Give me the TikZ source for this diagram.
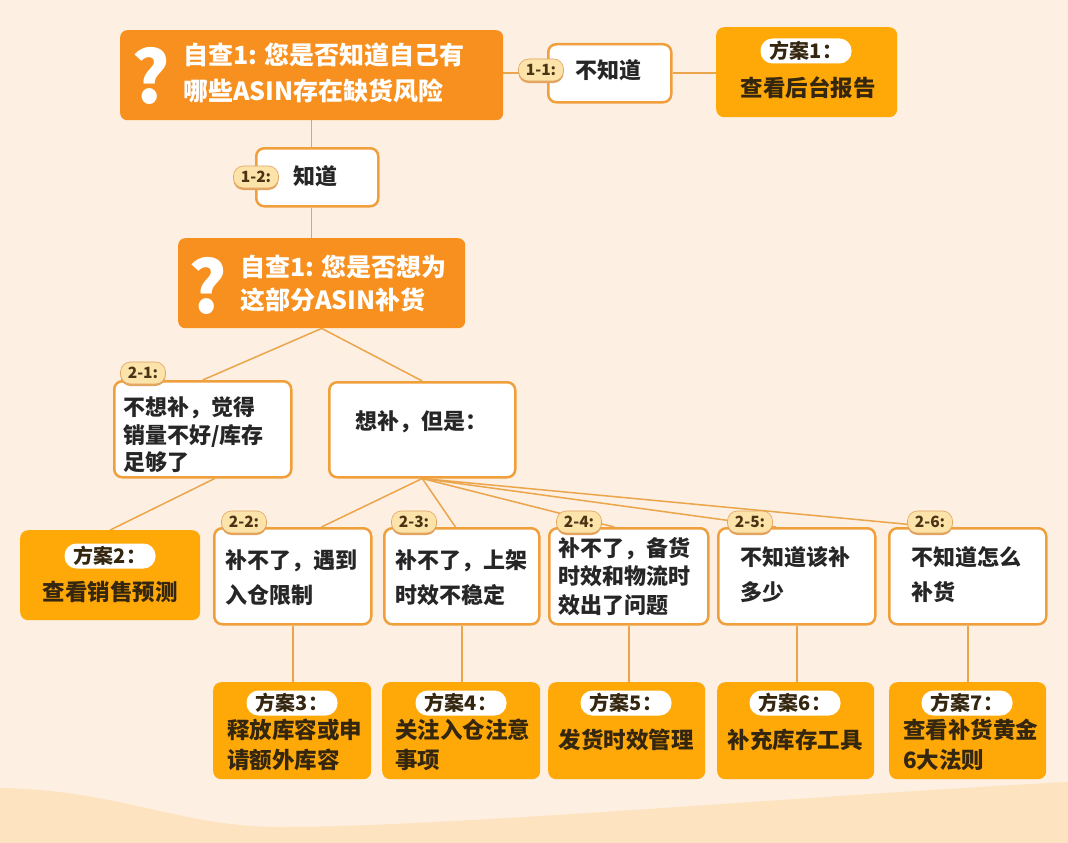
\documentclass[tikz,border=0pt]{standalone}
\usepackage{fontspec}
\setmainfont{Noto Sans CJK SC}
\usetikzlibrary{calc,shadows}
\definecolor{bgc}{HTML}{FDEFE1}
\definecolor{wavec}{HTML}{FDE3BF}
\definecolor{qor}{HTML}{F7901E}
\definecolor{planc}{HTML}{FFA908}
\definecolor{bordc}{HTML}{EFA03C}
\definecolor{linec}{HTML}{EBA54A}
\definecolor{badgef}{HTML}{FCE3A9}
\definecolor{badgee}{HTML}{E2A35E}
\definecolor{darkt}{HTML}{262626}
\definecolor{plant}{HTML}{35260F}
\definecolor{badget}{HTML}{4A3415}
\pgfdeclarelayer{bglayer}
\pgfdeclarelayer{linelayer}
\pgfsetlayers{bglayer,linelayer,main}
\begin{document}
\begin{tikzpicture}[x=1pt,y=-1pt,
  qbox/.style={fill=qor, rounded corners=7pt, anchor=north west, inner sep=0},
  wbox/.style={fill=white, draw=bordc, line width=2.5pt, rounded corners=8pt, anchor=north west, inner sep=0},
  pbox/.style={fill=planc, rounded corners=8pt, anchor=north west, inner sep=0},
  badge/.style={fill=badgef, draw=badgee, line width=0.6pt, rounded corners=10pt, minimum width=45pt, minimum height=22pt, inner sep=0, font=\fontsize{15.5}{16}\selectfont\bfseries, text=badget, drop shadow={shadow xshift=0pt, shadow yshift=-2pt, fill=badgee, opacity=1}},
  pill/.style={fill=white, rounded corners=12pt, minimum width=91pt, minimum height=25pt, inner sep=0, font=\fontsize{20}{21}\selectfont\bfseries, text=plant},
  conn/.style={draw=linec, line width=1.5pt},
  qmark/.style={font=\fontsize{72}{72}\selectfont\bfseries, text=white, inner sep=0},
  qtext/.style={text=white, font=\fontsize{25}{36}\selectfont\bfseries, align=left, inner sep=0, anchor=west},
  wtext/.style={text=darkt, font=\fontsize{22}{35}\selectfont\bfseries, align=left, inner sep=0, anchor=west},
  ptext/.style={text=plant, font=\fontsize{22.5}{30}\selectfont\bfseries, align=left, inner sep=0}
]
\useasboundingbox (0,0) rectangle (1068,843);
\begin{pgfonlayer}{bglayer}
  \fill[bgc] (0,0) rectangle (1068,843);
  \fill[wavec] (0,788) .. controls (120,790) and (180,827) .. (280,827)
     .. controls (450,827) and (800,796) .. (1068,782) -- (1068,843) -- (0,843) -- cycle;
\end{pgfonlayer}

% question 1
\node[qbox, minimum width=383pt, minimum height=90pt] (q1) at (120,30) {};
\node[qmark] (q1m) at (151,76) {?};
\node[qtext] (q1t) at (183,73) {自查1: 您是否知道自己有\\哪些ASIN存在缺货风险};

% 1-1
\node[wbox, minimum width=123pt, minimum height=58pt] (n11) at (547,43) {};
\node[wtext, anchor=center] (n11t) at (608,70) {不知道};
\node[badge] (b11) at (541,70) {1-1:};

% plan 1
\node[pbox, minimum width=181pt, minimum height=90pt] (p1) at (716,27) {};
\node[pill] (p1l) at (806,51) {方案1：};
\node[ptext] (p1t) at (808,88) {查看后台报告};

% 1-2
\node[wbox, minimum width=122pt, minimum height=58pt] (n12) at (255,147) {};
\node[wtext, anchor=center] (n12t) at (315,176) {知道};
\node[badge] (b12) at (256,177) {1-2:};

% question 2
\node[qbox, minimum width=287pt, minimum height=90pt] (q2) at (178,238) {};
\node[qmark] (q2m) at (208,286) {?};
\node[qtext, font=\fontsize{25}{33}\selectfont\bfseries] (q2t) at (240,283.5) {自查1: 您是否想为\\这部分ASIN补货};

% 2-1
\node[wbox, minimum width=177pt, minimum height=96pt] (n21) at (113,380) {};
\node[wtext, font=\fontsize{22}{27.5}\selectfont\bfseries] (n21t) at (123,435) {不想补，觉得\\销量不好/库存\\足够了};
\node[badge] (b21) at (143,373) {2-1:};

% want
\node[wbox, minimum width=186pt, minimum height=95pt] (n22) at (328,381) {};
\node[wtext, anchor=center] (n22t) at (421,422) {想补，但是：};

% plan 2
\node[pbox, minimum width=180pt, minimum height=90pt] (p2) at (20,530) {};
\node[pill] (p2l) at (110,556) {方案2：};
\node[ptext] (p2t) at (110,592) {查看销售预测};

% second level children
\node[wbox, minimum width=157pt, minimum height=96pt] (c22) at (213,527) {};
\node[wtext] (c22t) at (225,577.5) {补不了，遇到\\入仓限制};
\node[badge] (b22) at (244,522) {2-2:};

\node[wbox, minimum width=155pt, minimum height=96pt] (c23) at (383,527) {};
\node[wtext] (c23t) at (395,577.5) {补不了，上架\\时效不稳定};
\node[badge] (b23) at (414,522) {2-3:};

\node[wbox, minimum width=159pt, minimum height=96pt] (c24) at (548,527) {};
\node[wtext, font=\fontsize{22}{28.5}\selectfont\bfseries] (c24t) at (558,576.5) {补不了，备货\\时效和物流时\\效出了问题};
\node[badge] (b24) at (579,522) {2-4:};

\node[wbox, minimum width=157pt, minimum height=96pt] (c25) at (717,527) {};
\node[wtext] (c25t) at (740,574.5) {不知道该补\\多少};
\node[badge] (b25) at (750,522) {2-5:};

\node[wbox, minimum width=157pt, minimum height=96pt] (c26) at (888,527) {};
\node[wtext] (c26t) at (911,574.5) {不知道怎么\\补货};
\node[badge] (b26) at (930,522) {2-6:};

% bottom plans
\node[pbox, minimum width=158pt, minimum height=97pt] (pl3) at (213,682) {};
\node[pill] (pl3l) at (292,703) {方案3：};
\node[ptext, anchor=west] (pl3t) at (227,745) {释放库容或申\\请额外库容};

\node[pbox, minimum width=158pt, minimum height=97pt] (pl4) at (382,682) {};
\node[pill] (pl4l) at (461,703) {方案4：};
\node[ptext, anchor=west] (pl4t) at (395,745) {关注入仓注意\\事项};

\node[pbox, minimum width=157pt, minimum height=97pt] (pl5) at (548,682) {};
\node[pill] (pl5l) at (626,703) {方案5：};
\node[ptext] (pl5t) at (626,740) {发货时效管理};

\node[pbox, minimum width=157pt, minimum height=97pt] (pl6) at (717,682) {};
\node[pill] (pl6l) at (795,703) {方案6：};
\node[ptext] (pl6t) at (795,740) {补充库存工具};

\node[pbox, minimum width=157pt, minimum height=97pt] (pl7) at (889,682) {};
\node[pill] (pl7l) at (967,703) {方案7：};
\node[ptext, anchor=west] (pl7t) at (903,745) {查看补货黄金\\6大法则};

\begin{pgfonlayer}{linelayer}
  \draw[conn] (q1.east |- n11.west) -- (n11.west);
  \draw[conn] (n11.east) -- (p1.west |- n11.east);
  \draw[conn] (q1.south) -- (q1.south |- n12.north);
  \draw[conn] (n12.south -| q1.south) -- (q2.north -| q1.south);
  \draw[conn] (q2.south) -- (n21.north);
  \draw[conn] (q2.south) -- (n22.north);
  \draw[conn] ($(n21.south)+(12,0)$) -- (p2.north);
  \draw[conn] (n22.south) -- ($(c22.north west)!0.68!(c22.north east)$);
  \draw[conn] (n22.south) -- ($(c23.north west)!0.46!(c23.north east)$);
  \draw[conn] (n22.south) -- ($(c24.north west)!0.41!(c24.north east)$);
  \draw[conn] (n22.south) -- ($(c25.north west)!0.37!(c25.north east)$);
  \draw[conn] (n22.south) -- ($(c26.north west)!0.30!(c26.north east)$);
  \draw[conn] (c22.south) -- (c22.south |- pl3.north);
  \draw[conn] (c23.south) -- (c23.south |- pl4.north);
  \draw[conn] (c24.south) -- (c24.south |- pl5.north);
  \draw[conn] (c25.south) -- (c25.south |- pl6.north);
  \draw[conn] (c26.south) -- (c26.south |- pl7.north);
\end{pgfonlayer}
\end{tikzpicture}
\end{document}
